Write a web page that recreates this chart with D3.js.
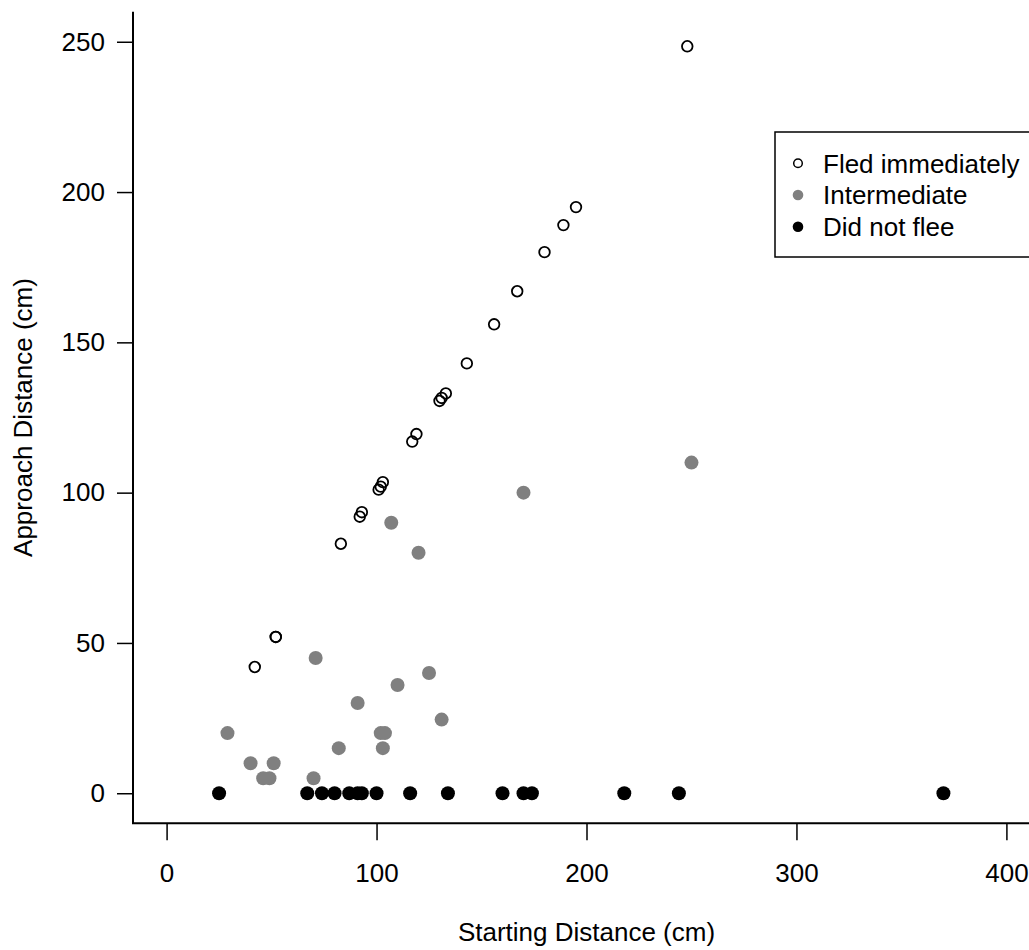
<!DOCTYPE html>
<html>
<head>
<meta charset="utf-8">
<script src="https://cdn.jsdelivr.net/npm/d3@7"></script>
<style>
  body { margin: 0; background: #fff; }
  text { font-family: "Liberation Sans", Arial, sans-serif; }
</style>
</head>
<body>
<div id="chart"></div>
<script>
// datos: [distancia inicial, distancia de aproximacion]
const fledImmediately = [
  [42, 42], [52, 52], [52, 52], [83, 83], [92, 92], [93, 93.5],
  [101, 101], [102, 102], [103, 103.5], [117, 117], [119, 119.5],
  [130, 130.5], [131, 131.5], [133, 133], [143, 143], [156, 156],
  [167, 167], [180, 180], [189, 189], [195, 195], [248, 248.5]
];
const intermediate = [
  [29, 20], [40, 10], [46, 5], [49, 5], [51, 10], [70, 5], [71, 45],
  [82, 15], [91, 30], [102, 20], [104, 20], [103, 15], [107, 90],
  [110, 36], [120, 80], [125, 40], [131, 24.5], [170, 100], [250, 110]
];
const didNotFlee = [
  [25, 0], [67, 0], [74, 0], [80, 0], [87, 0], [91, 0], [93, 0], [100, 0],
  [116, 0], [134, 0], [160, 0], [170, 0], [174, 0], [218, 0], [244, 0], [370, 0]
];
const xTicks = [0, 100, 200, 300, 400];
const yTicks = [0, 50, 100, 150, 200, 250];
const legendLabels = ["Fled immediately", "Intermediate", "Did not flee"];

const width = 1029, height = 950;
const GRAY = "#808080";
const FONT = 26;

const svg = d3.select("#chart").append("svg")
  .attr("width", width).attr("height", height);

// escalas (rango extendido 4% como en R)
const x = d3.scaleLinear().domain([-16, 416]).range([133, 1040]);
const y = d3.scaleLinear().domain([-10, 260]).range([823.3, 11.7]);

// eje Y
const gy = svg.append("g").attr("transform", `translate(${x(-16)},0)`)
  .call(d3.axisLeft(y).tickValues(yTicks).tickSize(16).tickPadding(12));
gy.select(".domain").remove();
gy.selectAll(".tick line").attr("stroke", "#000").attr("stroke-width", 1.5);
gy.selectAll(".tick text").attr("font-size", FONT).attr("fill", "#000")
  .style("font-family", "'Liberation Sans', Arial, sans-serif");

// eje X
const gx = svg.append("g").attr("transform", `translate(0,${y(-10)})`)
  .call(d3.axisBottom(x).tickValues(xTicks).tickSize(17).tickPadding(23));
gx.select(".domain").remove();
gx.selectAll(".tick line").attr("stroke", "#000").attr("stroke-width", 1.5);
gx.selectAll(".tick text").attr("font-size", FONT).attr("fill", "#000")
  .style("font-family", "'Liberation Sans', Arial, sans-serif");

// caja en L
svg.append("path")
  .attr("d", `M${x(-16)},${y(260)}V${y(-10)}H${x(416)}`)
  .attr("fill", "none").attr("stroke", "#000").attr("stroke-width", 2);

// titulos
svg.append("text").attr("x", (x(-16) + x(416)) / 2).attr("y", 941)
  .attr("text-anchor", "middle").attr("font-size", FONT)
  .text("Starting Distance (cm)");
svg.append("text")
  .attr("transform", `translate(32,${(y(260) + y(-10)) / 2}) rotate(-90)`)
  .attr("text-anchor", "middle").attr("font-size", FONT)
  .text("Approach Distance (cm)");

// puntos
svg.append("g").selectAll("circle").data(intermediate).join("circle")
  .attr("cx", d => x(d[0])).attr("cy", d => y(d[1])).attr("r", 7)
  .attr("fill", GRAY);
svg.append("g").selectAll("circle").data(didNotFlee).join("circle")
  .attr("cx", d => x(d[0])).attr("cy", d => y(d[1])).attr("r", 7)
  .attr("fill", "#000");
svg.append("g").selectAll("circle").data(fledImmediately).join("circle")
  .attr("cx", d => x(d[0])).attr("cy", d => y(d[1])).attr("r", 5.3)
  .attr("fill", "none").attr("stroke", "#000").attr("stroke-width", 1.8);

// leyenda
svg.append("rect").attr("x", 775).attr("y", 132).attr("width", 280).attr("height", 125)
  .attr("fill", "#fff").attr("stroke", "#000").attr("stroke-width", 1.5);
const rowY = [163.3, 195, 226.7];
const leg = svg.append("g").selectAll("g").data(legendLabels).join("g")
  .attr("transform", (d, i) => `translate(798,${rowY[i]})`);
leg.append("circle")
  .attr("r", (d, i) => i === 0 ? 4.3 : 5.3)
  .attr("fill", (d, i) => i === 0 ? "none" : i === 1 ? GRAY : "#000")
  .attr("stroke", (d, i) => i === 0 ? "#000" : "none")
  .attr("stroke-width", 1.5);
leg.append("text").attr("x", 25).attr("dy", "0.36em").attr("font-size", FONT)
  .text(d => d);
</script>
</body>
</html>
